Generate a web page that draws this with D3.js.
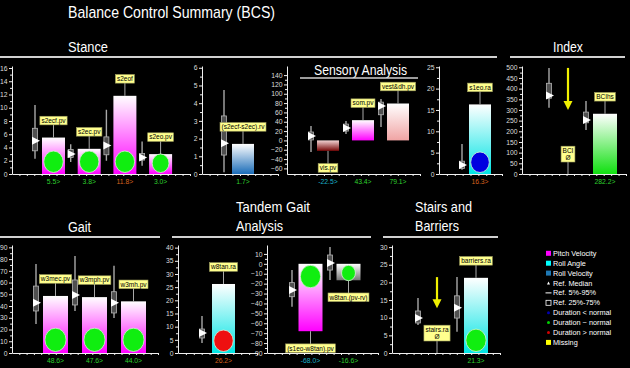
<!DOCTYPE html>
<html><head><meta charset="utf-8">
<script src="https://cdn.jsdelivr.net/npm/d3@7"></script>
<style>
body{margin:0;background:#000;}
svg{display:block;font-family:"Liberation Sans",Arial,sans-serif;}
</style>
</head><body><svg id="c" width="630" height="368"></svg>
<script>
// ================= DATA =================
// each reference entry: [p5, p25, median, p75, p95]
const stanceCats   = ["s2ecf.pv","s2ec.pv","s2eof","s2eo.pv"];
const stanceVals   = [5.5, 3.8, 11.8, 3.0];
const stanceRef    = [[2.3,3.5,5.0,6.9,10.4],[1.8,2.5,3.0,3.7,4.5],[2.0,2.9,4.3,5.6,9.7],[1.25,2.1,2.5,3.1,4.9]];
const stanceSeries = ["pitch","pitch","pitch","pitch"];
const stanceDur    = ["normal","normal","normal","normal"];
const stanceStatus = ["ok","ok","high","ok"];
const stanceTicks  = [0,2,4,6,8,10,12,14,16];

const rvCats   = ["(s2ecf-s2ec).rv"];
const rvVals   = [1.7];
const rvRef    = [[0.1,1.07,1.73,3.28,4.75]];
const rvSeries = ["rollV"];
const rvDur    = [null];
const rvStatus = ["ok"];
const rvTicks  = [0,1,2,3,4,5,6];

const sensCats   = ["vis.pv","som.pv","vest&dh.pv"];
const sensVals   = [-22.5, 43.4, 79.1];
const sensRef    = [[-24.6,1,9.6,18,31],[14,20,26.8,35,41.8],[29,55,74,82,89]];
const sensSeries = ["vis","pitch","vest"];
const sensDur    = [null,null,null];
const sensStatus = ["low","ok","ok"];
const sensTicks  = [-60,-40,-20,0,20,40,60,80,100,120,140];

const raCats   = ["s1eo.ra"];
const raVals   = [16.3];
const raRef    = [[1.0,1.3,2.1,3.0,7.0]];
const raSeries = ["rollA"];
const raDur    = ["short"];
const raStatus = ["high"];
const raTicks  = [0,5,10,15,20,25];

const indexCats   = ["BCI","BCIhs"];
const indexVals   = [null, 282.2];
const indexRef    = [[310,355,368,425,497],[206,240,253,290,342]];
const indexSeries = [null,"index"];
const indexDur    = [null,null];
const indexStatus = [null,"ok"];
const indexArrow  = [[497,300], null];
const indexTicks  = [0,50,100,150,200,250,300,350,400,450,500];

const gaitCats   = ["w3mec.pv","w3mph.pv","w3mh.pv"];
const gaitVals   = [48.6, 47.6, 44.0];
const gaitRef    = [[24.7,35.8,42.8,57,75.8],[35.8,40.9,49.4,62.2,82.6],[29.8,34.1,42.8,52.2,74.4]];
const gaitSeries = ["pitch","pitch","pitch"];
const gaitDur    = ["normal","normal","normal"];
const gaitStatus = ["ok","ok","ok"];
const gaitTicks  = [0,10,20,30,40,50,60,70,80,90];

const tandRaCats   = ["w8tan.ra"];
const tandRaVals   = [26.2];
const tandRaRef    = [[3.8,5.7,7.6,9.1,14]];
const tandRaSeries = ["rollA"];
const tandRaDur    = ["long"];
const tandRaStatus = ["high"];
const tandRaTicks  = [0,5,10,15,20,25,30,35,40];

const tandCats   = ["(s1eo-w8tan).pv","w8tan.(pv-rv)"];
const tandVals   = [-68.0, -16.6];
const tandRef    = [[-43.3,-33.2,-26.4,-19,-6.3],[-16.3,-6.3,0.8,8.9,17]];
const tandSeries = ["pitch","diff"];
const tandDur    = ["normal","normal"];
const tandStatus = ["low","ok"];
const tandTicks  = [-90,-80,-70,-60,-50,-40,-30,-20,-10,0,10];

const stairCats   = ["stairs.ra","barriers.ra"];
const stairVals   = [null, 21.3];
const stairRef    = [[7.9,8.5,9.9,11.9,15.6],[6.0,9.9,12.8,16.2,21.5]];
const stairSeries = [null,"rollA"];
const stairDur    = [null,"normal"];
const stairStatus = [null,"ok"];
const stairArrow  = [[21.5,12.7], null];
const stairTicks  = [0,5,10,15,20,25,30];

const legendLabels = ["Pitch Velocity","Roll Angle","Roll Velocity","Ref. Median","Ref. 5%-95%","Ref. 25%-75%","Duration < normal","Duration ~ normal","Duration > normal","Missing"];

// ================= DRAWING =================
const W=630,H=368;
const svg=d3.select("#c");
svg.append("rect").attr("width",W).attr("height",H).attr("fill","#000");
const defs=svg.append("defs");
const grad={
  pitch:["#ffffff","#ff00ff"],
  rollA:["#ffffff","#00e4e4"],
  rollV:["#ffffff","#1a6cb8"],
  vis:["#f2d4d4","#760808"],
  vest:["#ffffff","#f0a4a4"],
  diff:["#ffffff","#767676"],
  index:["#ffffff","#10e010"]
};
Object.entries(grad).forEach(([k,c])=>{
  const lg=defs.append("linearGradient").attr("id","g-"+k).attr("x1",0).attr("y1",0).attr("x2",0).attr("y2",1);
  lg.append("stop").attr("offset","0%").attr("stop-color",c[0]);
  lg.append("stop").attr("offset","100%").attr("stop-color",c[1]);
});
const durColor={short:"#0000e0",normal:"#10ee10",long:"#ee1010"};
const statusColor={ok:"#2ed02e",high:"#d8601e",low:"#1ab0c8"};
const TITLE_FONT='"Liberation Sans Narrow","Liberation Sans",Arial,sans-serif';

function tag(g,cx,cy,lines){
  const lh=7.2;
  const gg=g.append("g");
  const ts=lines.map((t,k)=>gg.append("text")
    .attr("x",cx).attr("y",cy-(lines.length-1)*lh/2+k*lh+2.3)
    .attr("text-anchor","middle").attr("font-size",6.5).attr("fill","#000").text(t));
  const w=d3.max(ts,t=>t.node().getComputedTextLength())+3;
  const h=lines.length*lh+1.4;
  gg.insert("rect","text").attr("x",cx-w/2).attr("y",cy-h/2).attr("width",w).attr("height",h)
    .attr("fill","#ffff8e").attr("stroke","#a0a060").attr("stroke-width",0.6);
  return h;
}

function panel(p){
  const g=svg.append("g");
  const y=d3.scaleLinear().domain(p.domain).range([p.yBot,p.yTop]);
  const xb=d3.scalePoint().domain(p.cats).range([p.box0,p.box0+p.step*(p.cats.length-1)]);
  // y axis
  const ya=g.append("g").attr("transform",`translate(${p.x0},0)`)
    .call(d3.axisLeft(y).tickValues(p.ticks).tickFormat(d3.format("~g")).tickSize(3).tickSizeOuter(0).tickPadding(1.5));
  ya.attr("font-family",null).attr("font-size",null);
  ya.select(".domain").attr("stroke","#f0f0f0");
  ya.selectAll(".tick line").attr("stroke","#f0f0f0");
  ya.selectAll(".tick text").attr("fill","#dcdcdc").attr("font-size",6.8);
  const mids=d3.pairs(p.ticks).map(([a,b])=>(a+b)/2);
  const ym=g.append("g").attr("transform",`translate(${p.x0},0)`)
    .call(d3.axisLeft(y).tickValues(mids).tickSize(2).tickFormat("").tickSizeOuter(0));
  ym.select(".domain").remove();
  ym.selectAll(".tick line").attr("stroke","#f0f0f0");
  // x axis
  const xl=d3.scaleLinear().domain([0,p.xn]).range([p.x0,p.x1]);
  const xa=g.append("g").attr("transform",`translate(0,${p.yBot})`)
    .call(d3.axisBottom(xl).tickValues(d3.range(1,p.xn+1)).tickSize(2).tickFormat("").tickSizeOuter(0));
  xa.select(".domain").attr("stroke","#f0f0f0");
  xa.selectAll(".tick line").attr("stroke","#f0f0f0");

  p.cats.forEach((c,i)=>{
    const bx=xb(c), v=p.vals[i], r=p.ref[i];
    const cx=bx+p.gap+p.bw/2;
    // reference: whisker, box, median
    g.append("line").attr("x1",bx).attr("x2",bx).attr("y1",y(r[0])).attr("y2",y(r[4]))
      .attr("stroke","#a8a8a8").attr("stroke-width",1.4);
    g.append("rect").attr("x",bx-2.5).attr("y",y(r[3])).attr("width",5).attr("height",Math.max(1,y(r[1])-y(r[3])))
      .attr("fill","#505050").attr("stroke","#b4b4b4").attr("stroke-width",0.8);
    const m=y(r[2]);
    g.append("path").attr("d",`M${bx-3},${m-4}L${bx+5},${m}L${bx-3},${m+4}Z`).attr("fill","#fff");
    if(v==null){
      const a=p.arrows[i];
      if(a){
        const y1=y(a[0]), y2=y(a[1]);
        g.append("line").attr("x1",cx).attr("x2",cx).attr("y1",y1).attr("y2",y2-8).attr("stroke","#f0f000").attr("stroke-width",2.2);
        g.append("path").attr("d",`M${cx-4.5},${y2-9}L${cx+4.5},${y2-9}L${cx},${y2}Z`).attr("fill","#f0f000");
      }
      const lb=p.yBot-12, lh=2*7.2+1.4;
      g.append("line").attr("x1",cx).attr("x2",cx).attr("y1",lb).attr("y2",p.yBot).attr("stroke","#bbb").attr("stroke-width",0.9);
      tag(g,cx,lb-lh/2,[c,"Ø"]);
      return;
    }
    const y0=y(0), y1=y(v);
    const top=Math.min(y0,y1), hgt=Math.abs(y1-y0);
    g.append("rect").attr("x",bx+p.gap).attr("y",top).attr("width",p.bw).attr("height",hgt)
      .attr("fill",`url(#g-${p.series[i]})`);
    // label
    const pos=v>=0;
    const ly=pos? y1-17 : y1+17;
    g.append("line").attr("x1",cx).attr("x2",cx).attr("y1",ly).attr("y2",y1).attr("stroke","#bbb").attr("stroke-width",0.9);
    tag(g,cx,ly,[c]);
    // duration marker
    const d=p.dur[i];
    if(d){
      const rr=0.44*Math.min(p.bw,hgt);
      const rx=rr*0.96, ry=rr*1.06;
      const cy=pos? y0-ry-1.5 : y0+ry+1.5;
      g.append("ellipse").attr("cx",cx).attr("cy",cy).attr("rx",rx).attr("ry",ry)
        .attr("fill",durColor[d]).attr("stroke","#d8f0d8").attr("stroke-width",0.8);
    }
    // value label
    g.append("text").attr("x",cx).attr("y",p.yBot+10).attr("text-anchor","middle")
      .attr("font-size",6.8).attr("fill",statusColor[p.status[i]]).text(v.toFixed(1)+">");
  });
}

const row1={yTop:66,yBot:174}, row2={yTop:245,yBot:353};
panel({...row1,x0:12,x1:190,xn:24,domain:[0,16.3],ticks:stanceTicks,cats:stanceCats,vals:stanceVals,ref:stanceRef,series:stanceSeries,dur:stanceDur,status:stanceStatus,box0:35,step:35.7,bw:23,gap:7});
panel({...row1,x0:202,x1:278,xn:10,domain:[0,6.1],ticks:rvTicks,cats:rvCats,vals:rvVals,ref:rvRef,series:rvSeries,dur:rvDur,status:rvStatus,box0:224,step:35,bw:22,gap:8});
panel({...row1,x0:287,x1:420,xn:18,domain:[-72,159.5],ticks:sensTicks,cats:sensCats,vals:sensVals,ref:sensRef,series:sensSeries,dur:sensDur,status:sensStatus,box0:311,step:35,bw:22,gap:6});
panel({...row1,x0:439,x1:502,xn:8,domain:[0,25.3],ticks:raTicks,cats:raCats,vals:raVals,ref:raRef,series:raSeries,dur:raDur,status:raStatus,box0:462,step:35,bw:22,gap:7});
panel({...row1,x0:522,x1:626,xn:14,domain:[0,506],ticks:indexTicks,cats:indexCats,vals:indexVals,ref:indexRef,series:indexSeries,dur:indexDur,status:indexStatus,arrows:indexArrow,box0:549,step:37,bw:24,gap:7});
panel({...row2,x0:12,x1:158,xn:20,domain:[0,92],ticks:gaitTicks,cats:gaitCats,vals:gaitVals,ref:gaitRef,series:gaitSeries,dur:gaitDur,status:gaitStatus,box0:36,step:39,bw:25,gap:7});
panel({...row2,x0:178,x1:257,xn:10,domain:[0,41],ticks:tandRaTicks,cats:tandRaCats,vals:tandRaVals,ref:tandRaRef,series:tandRaSeries,dur:tandRaDur,status:tandRaStatus,box0:202,step:35,bw:23,gap:10});
panel({...row2,x0:267,x1:378,xn:15,domain:[-90,19],ticks:tandTicks,cats:tandCats,vals:tandVals,ref:tandRef,series:tandSeries,dur:tandDur,status:tandStatus,box0:292,step:38,bw:24,gap:6.5});
panel({...row2,x0:392,x1:500,xn:15,domain:[0,30.6],ticks:stairTicks,cats:stairCats,vals:stairVals,ref:stairRef,series:stairSeries,dur:stairDur,status:stairStatus,arrows:stairArrow,box0:418,step:39,bw:24,gap:7});

// ---- titles & section rules ----
function title(x,yb,t,size,len){
  const el=svg.append("text").attr("x",x).attr("y",yb).attr("fill","#fff").attr("font-size",size)
    .style("font-family",TITLE_FONT).text(t);
  if(len) el.attr("textLength",len).attr("lengthAdjust","spacingAndGlyphs");
}
title(68,18,"Balance Control Summary (BCS)",17,207);
title(68,52,"Stance",15.5,40);
title(553,52,"Index",15.5,30);
title(314,75,"Sensory Analysis",15,93);
title(68,232,"Gait",15.5,23);
title(236,212,"Tandem Gait",15.5,74);
title(236,231,"Analysis",15.5,47);
title(415,212,"Stairs and",15.5,57);
title(415,231,"Barriers",15.5,44);
function rule(x1,x2,yy,w){
  svg.append("line").attr("x1",x1).attr("x2",x2).attr("y1",yy).attr("y2",yy).attr("stroke","#d0d0d0").attr("stroke-width",w);
}
rule(0,497,57,2); rule(510,625,57,2);
rule(300,418,78,1.5);
rule(0,160,237,2); rule(172,371,237,2); rule(383,498,237,2);

// ---- legend ----
const lg=svg.append("g");
legendLabels.forEach((t,i)=>{
  const cy=253.3+i*9.9, mx=548.5;
  const k=i;
  if(k===0||k===1||k===2||k===9){
    lg.append("rect").attr("x",mx-2.5).attr("y",cy-2.5).attr("width",5).attr("height",5)
      .attr("fill",["#ff00ff","#00ffff","#1e78b4"][k]||"#ffff00");
  } else if(k===3){
    lg.append("path").attr("d",`M${mx-1.5},${cy+1.5}L${mx+1.5},${cy+1.5}L${mx},${cy-1.5}Z`).attr("fill","#fff");
  } else if(k===4){
    lg.append("line").attr("x1",mx-3).attr("x2",mx+3).attr("y1",cy).attr("y2",cy).attr("stroke","#fff").attr("stroke-width",1);
  } else if(k===5){
    lg.append("rect").attr("x",mx-2.5).attr("y",cy-2.5).attr("width",5).attr("height",5).attr("fill","none").attr("stroke","#fff").attr("stroke-width",0.8);
  } else {
    lg.append("circle").attr("cx",mx).attr("cy",cy).attr("r",1.5).attr("fill",["#0000b0","#00d000","#d00000"][k-6]);
  }
  lg.append("text").attr("x",553).attr("y",cy+2.5).attr("fill","#fff").attr("font-size",7.3).text(t);
});
</script>
</body></html>
